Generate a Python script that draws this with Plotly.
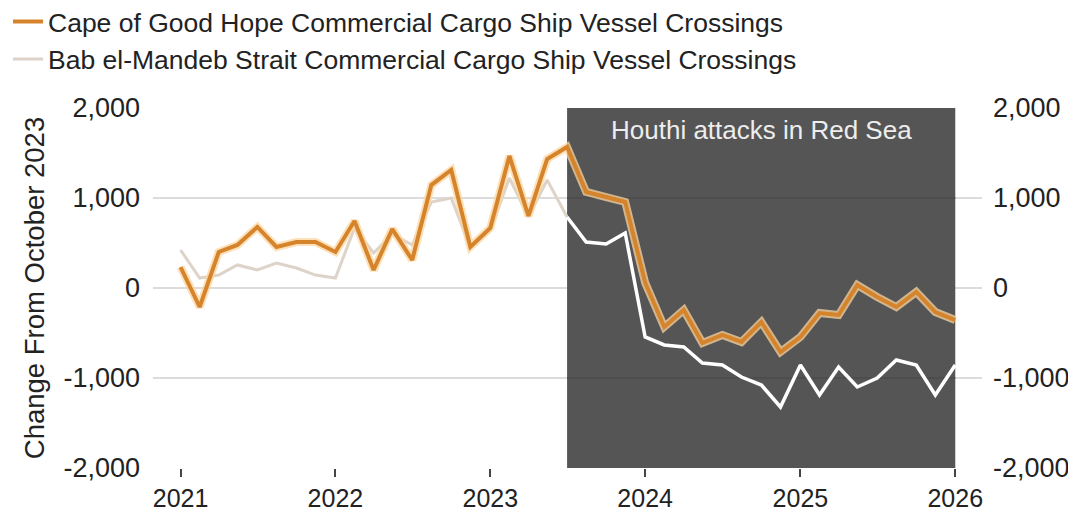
import plotly.graph_objects as go

dates = [
    "2021-01-01", "2021-02-15", "2021-04-01", "2021-05-15", "2021-07-01", "2021-08-15",
    "2021-10-01", "2021-11-15", "2022-01-01", "2022-02-15", "2022-04-01", "2022-05-15",
    "2022-07-01", "2022-08-15", "2022-10-01", "2022-11-15", "2023-01-01", "2023-02-15",
    "2023-04-01", "2023-05-15", "2023-07-01", "2023-08-15", "2023-10-01", "2023-11-15",
    "2024-01-01", "2024-02-15", "2024-04-01", "2024-05-15", "2024-07-01", "2024-08-15",
    "2024-10-01", "2024-11-15", "2025-01-01", "2025-02-15", "2025-04-01", "2025-05-15",
    "2025-07-01", "2025-08-15", "2025-10-01", "2025-11-15", "2026-01-01",
]

cape = [233, -211, 400, 478, 678, 456, 511, 511, 400, 744, 200, 656, 311, 1144, 1311,
        456, 667, 1467, 800, 1433, 1567, 1067, 1011, 956, 60, -433, -244, -611, -522,
        -600, -378, -711, -544, -278, -300, 33, -100, -211, -44, -267, -356]

bab = [422, 111, 144, 256, 200, 278, 222, 144, 111, 667, 389, 600, 478, 956, 1000,
       450, 640, 1222, 790, 1200, 789, 511, 489, 611, -544, -633, -656, -833, -856,
       -989, -1078, -1322, -856, -1189, -878, -1100, -1000, -800, -856, -1189, -856]

cape_name = "Cape of Good Hope Commercial Cargo Ship Vessel Crossings"
bab_name = "Bab el-Mandeb Strait Commercial Cargo Ship Vessel Crossings"
shade_start = "2023-07-01"
shade_end = "2026-01-01"
shade_label = "Houthi attacks in Red Sea"
y_title = "Change From October 2023"
year_ticks = ["2021-01-01", "2022-01-01", "2023-01-01", "2024-01-01", "2025-01-01", "2026-01-01"]
year_labels = ["2021", "2022", "2023", "2024", "2025", "2026"]
y_ticks = [-2000, -1000, 0, 1000, 2000]
y_labels = ["-2,000", "-1,000", "0", "1,000", "2,000"]

split = dates.index(shade_start)

ORANGE = "#D5842B"
HALO = "rgba(252,214,160,0.75)"
TAN = "#DDD3C8"
FONT = "Liberation Sans"
TXT = "#222222"

fig = go.Figure()

# Orange series (on overlaid axis so it sits on top)
fig.add_trace(go.Scatter(x=dates, y=cape, mode="lines", yaxis="y2",
                         line=dict(color=HALO, width=8), showlegend=False,
                         hoverinfo="skip"))
fig.add_trace(go.Scatter(x=dates, y=cape, mode="lines", yaxis="y2", name=cape_name,
                         line=dict(color=ORANGE, width=4), legendrank=1,
                         legendgroup="a"))
# Bab el-Mandeb series: tan before shading, white inside it
fig.add_trace(go.Scatter(x=dates[:split + 1], y=bab[:split + 1], mode="lines",
                         name=bab_name, line=dict(color=TAN, width=3), legendrank=2,
                         legendgroup="b"))
fig.add_trace(go.Scatter(x=dates[split:], y=bab[split:], mode="lines",
                         line=dict(color="#FFFFFF", width=3.5), showlegend=False,
                         legendgroup="b"))

fig.add_shape(type="rect", xref="x", yref="y", x0=shade_start, x1=shade_end,
              y0=-2000, y1=2000, fillcolor="#555555", line=dict(width=0), layer="between")
for v in (1000, -1000):
    fig.add_shape(type="line", xref="x", yref="y", x0=shade_start, x1=shade_end,
                  y0=v, y1=v, line=dict(color="#4B4B4B", width=1.5), layer="between")
fig.add_shape(type="line", xref="paper", yref="y", x0=0, x1=1, y0=0, y1=0,
              line=dict(color="#111111", width=1.5), layer="between")

fig.add_annotation(x="2024-10-01", y=2000, xref="x", yref="y", text=shade_label,
                   showarrow=False, yanchor="top", yshift=-5,
                   font=dict(family=FONT, size=26, color="#EDEDED"))

fig.update_layout(
    width=1076, height=522,
    margin=dict(l=145, r=102, t=100, b=62, autoexpand=False),
    paper_bgcolor="white", plot_bgcolor="white",
    font=dict(family=FONT, size=26, color=TXT),
    showlegend=True,
    legend=dict(xref="paper", yref="paper", x=-0.1749, y=1.306,
                xanchor="left", yanchor="top",
                font=dict(family=FONT, size=26.5, color=TXT),
                tracegroupgap=0, bgcolor="rgba(0,0,0,0)", itemwidth=30),
    xaxis=dict(type="date", range=["2020-10-28", "2026-03-05"],
               tickvals=year_ticks, ticktext=year_labels,
               ticks="outside", ticklen=8, tickwidth=1.5, tickcolor="#444444",
               showgrid=False, zeroline=False, showline=False,
               tickfont=dict(family=FONT, size=25, color=TXT)),
    yaxis=dict(range=[-2000, 2000], tickvals=y_ticks, ticktext=y_labels,
               showgrid=True, gridcolor="#DCDCDC", gridwidth=1.5, zeroline=False,
               ticks="", ticklabelstandoff=12,
               tickfont=dict(family=FONT, size=27, color=TXT),
               title=dict(text=y_title, font=dict(family=FONT, size=27.5, color=TXT),
                          standoff=10)),
    yaxis2=dict(range=[-2000, 2000], overlaying="y", side="right",
                tickvals=y_ticks, ticktext=y_labels, showgrid=False, zeroline=False,
                ticks="", ticklabelstandoff=10,
                tickfont=dict(family=FONT, size=27, color=TXT)),
)

fig.write_html("out.html")
